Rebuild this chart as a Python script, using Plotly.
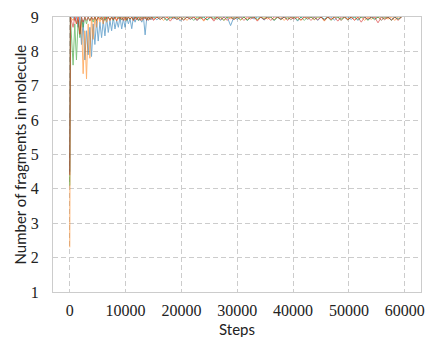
import plotly.graph_objects as go

# Step grid: finer sampling in the early phase, coarser afterwards
early_steps = [0, 120] + list(range(600, 15000, 300))
late_steps = list(range(15000, 60000, 600))
steps = early_steps + late_steps

blue_early = [4.5, 9, 9, 8.9, 9, 8.7, 9, 8.2, 8.9, 7.75,
              8.6, 7.9, 8.7, 7.85, 8.8, 8.2, 8.9, 8.3, 8.85, 8.4,
              8.9, 8.45, 9, 8.55, 8.9, 8.6, 9, 8.65, 8.9, 8.7,
              9, 8.65, 8.95, 8.7, 9, 8.8, 8.95, 8.66, 9, 8.85,
              9, 8.9, 8.95, 8.85, 9, 8.48, 9, 8.9, 9, 8.92]
blue_late = [9, 8.92, 9, 9, 8.9, 9, 8.95, 9, 8.88, 9,
             9, 8.93, 9, 8.9, 9, 9, 8.92, 9, 8.94, 9,
             8.9, 9, 9, 8.75, 9, 8.93, 9, 9, 8.9, 9,
             8.94, 9, 9, 8.91, 9, 9, 8.9, 9, 8.95, 9,
             9, 8.92, 9, 8.88, 9, 9, 8.93, 9, 9, 8.9,
             9, 8.94, 9, 9, 8.91, 9, 8.9, 9, 9, 8.93,
             9, 8.9, 9, 9, 8.92, 9, 8.95, 9, 8.9, 9,
             9, 8.92, 9, 8.94, 9]

orange_early = [2.3, 9, 8.9, 9, 8.8, 9, 8.5, 8.9, 7.35, 8.6,
                7.2, 8.8, 7.8, 9, 8.35, 9, 8.7, 9, 8.85, 9,
                8.8, 9, 8.85, 9, 8.9, 9, 8.92, 9, 8.88, 9,
                9, 8.93, 9, 8.9, 9, 9, 8.94, 9, 8.9, 9,
                8.92, 9, 9, 8.9, 9, 8.95, 9, 8.91, 9, 9]
orange_late = [8.93, 9, 9, 8.9, 9, 8.95, 9, 9, 8.92, 9,
               8.9, 9, 9, 8.94, 9, 8.88, 9, 9, 8.93, 9,
               9, 8.9, 9, 8.95, 9, 9, 8.91, 9, 8.93, 9,
               9, 8.9, 9, 9, 8.94, 9, 8.92, 9, 9, 8.9,
               9, 8.93, 9, 9, 8.9, 9, 8.95, 9, 8.92, 9,
               9, 8.88, 9, 8.93, 9, 9, 8.9, 9, 8.94, 9,
               8.92, 9, 9, 8.9, 9, 8.93, 9, 9, 8.91, 9,
               8.94, 9, 8.9, 9, 9]

green_early = [4.1, 9, 7.6, 8.8, 7.75, 8.9, 8.4, 9, 8.7, 9,
               8.8, 9, 8.9, 9, 8.85, 9, 8.9, 9, 9, 8.92,
               9, 8.9, 9, 9, 8.93, 9, 8.9, 9, 9, 8.94,
               9, 8.91, 9, 9, 8.9, 9, 8.93, 9, 8.92, 9,
               9, 8.9, 9, 8.95, 9, 9, 8.91, 9, 8.93, 9]
green_late = [9, 9, 8.93, 9, 8.9, 9, 9, 8.94, 9, 8.92,
              9, 9, 8.9, 9, 8.95, 9, 8.91, 9, 9, 8.93,
              9, 8.9, 9, 9, 8.94, 9, 8.92, 9, 8.9, 9,
              9, 8.93, 9, 8.95, 9, 9, 8.9, 9, 8.92, 9,
              8.94, 9, 9, 8.91, 9, 8.9, 9, 9, 8.93, 9,
              9, 8.92, 9, 8.9, 9, 9, 8.94, 9, 8.91, 9,
              9, 8.93, 9, 9, 8.9, 9, 8.92, 9, 9, 8.95,
              9, 8.9, 9, 8.93, 9]

red_early = [4.4, 9, 8.7, 9, 8.8, 9, 8.5, 9, 8.85, 9,
             8.9, 9, 8.88, 9, 8.92, 9, 8.9, 9, 8.93, 9,
             8.9, 9, 8.94, 9, 8.9, 9, 8.92, 9, 8.9, 9,
             8.93, 9, 8.9, 9, 8.91, 9, 8.94, 9, 8.9, 9,
             8.92, 9, 8.9, 9, 8.93, 9, 8.9, 9, 8.92, 9]
red_late = [8.9, 9, 8.93, 9, 9, 8.88, 9, 8.92, 9, 8.9,
            9, 8.94, 9, 8.9, 9, 8.91, 9, 9, 8.88, 9,
            8.93, 9, 8.9, 9, 8.92, 9, 9, 8.9, 9, 8.94,
            9, 8.88, 9, 8.92, 9, 8.9, 9, 9, 8.93, 9,
            8.9, 9, 8.94, 9, 8.91, 9, 9, 8.9, 9, 8.92,
            9, 8.9, 9, 8.93, 9, 8.88, 9, 9, 8.92, 9,
            8.9, 9, 8.85, 9, 8.94, 9, 9, 8.83, 9, 8.92,
            9, 8.91, 9, 8.9, 9]

x_ticks = [0, 10000, 20000, 30000, 40000, 50000, 60000]
y_ticks = [1, 2, 3, 4, 5, 6, 7, 8, 9]

series = [
    ("run 1", blue_early + blue_late, "#1f77b4"),
    ("run 2", orange_early + orange_late, "#ff7f0e"),
    ("run 3", green_early + green_late, "#2ca02c"),
    ("run 4", red_early + red_late, "#d62728"),
]

fig = go.Figure()
for name, vals, color in series:
    fig.add_trace(go.Scatter(x=steps, y=vals, mode="lines", name=name,
                             line=dict(color=color, width=1), opacity=0.6,
                             showlegend=False))

axis_common = dict(
    showline=True, linecolor="#cccccc", linewidth=1, mirror=True,
    showgrid=True, gridcolor="#cccccc", gridwidth=1, griddash="5px,3px",
    zeroline=False, ticks="", automargin=False, tickformat="d",
    tickfont=dict(family="Liberation Serif", size=16, color="#222222"),
)

title_font = dict(family="Lato", size=15, color="#222222")

fig.update_layout(
    width=428, height=337,
    margin=dict(l=53, r=7, t=17, b=45, autoexpand=False),
    paper_bgcolor="white", plot_bgcolor="white",
    xaxis=dict(range=[-3000, 62900], tickvals=x_ticks,
               ticklabelstandoff=4, **axis_common),
    yaxis=dict(range=[1, 9], tickvals=y_ticks,
               ticklabelstandoff=10, **axis_common),
    annotations=[
        dict(text="Steps", xref="paper", yref="paper", x=0.5, y=0,
             xanchor="center", yanchor="middle", yshift=-37,
             showarrow=False, font=title_font),
        dict(text="Number of fragments in molecule", xref="paper", yref="paper",
             x=0, y=0.5, xanchor="center", yanchor="middle", xshift=-34,
             textangle=-90, showarrow=False, font=title_font),
    ],
)

fig.write_html("out.html", config={"displayModeBar": False},
               post_script="document.body.style.margin='0';")
